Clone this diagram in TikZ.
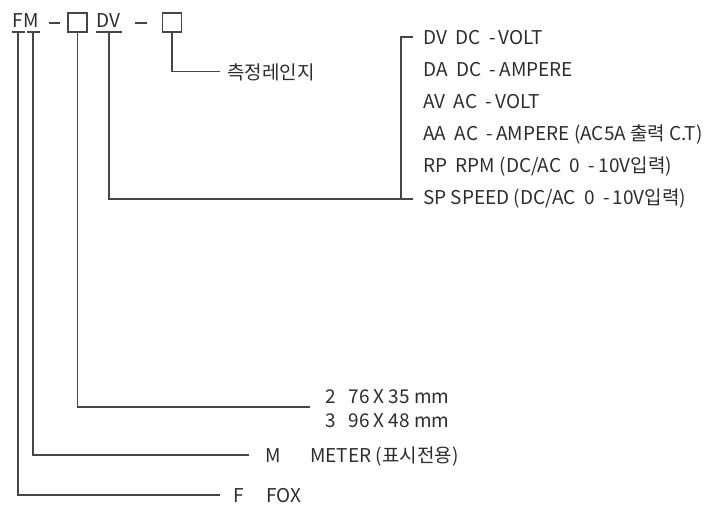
\documentclass[tikz,border=0pt]{standalone}
\usepackage{fontspec}
\setmainfont{Noto Sans CJK KR}
\usetikzlibrary{positioning}
\definecolor{wireGray}{RGB}{70,70,70}
\definecolor{textGray}{RGB}{45,45,45}

\begin{document}
\begin{tikzpicture}[
        x=1pt,
        y=-1pt,
        wire/.style={wireGray, line width=1.1pt},
        dashbar/.style={wireGray, line width=2pt},
        codeText/.style={font=\fontsize{19}{22}\selectfont, text=textGray, inner sep=0pt, anchor=base west},
        slot/.style={draw=wireGray, line width=1.1pt, minimum size=19pt, inner sep=0pt}
    ]
        \useasboundingbox (0,0) rectangle (709,504);

        % model code
        \node[codeText] (cF) at (12.5,27) {F};
        \node[codeText, right=0pt of cF.base east, anchor=base west] (cM) {M};
        \node[slot] (slotA) at (77.5,22.5) {};
        \node[codeText] (cDV) at (96,27) {DV};
        \node[slot] (slotB) at (172,22.5) {};
        \draw[dashbar] (49,22.5) -- (60,22.5);
        \draw[dashbar] (135,22.5) -- (147,22.5);

        % underlines
        \draw[wire] (12,32) -- (25,32);
        \draw[wire] (27,32) -- (40,32);
        \draw[wire] (96,32) -- (122,32);
        \coordinate (tF) at (18,32);
        \coordinate (tM) at (33,32);
        \coordinate (tDV) at (109,32);

        % range
        \node[codeText] (range) at (227,79) {측정레인지};
        \draw[wire] (slotB.south) |- ([xshift=-7pt]range.west);

        % input type
        \foreach \n/\txt [count=\i from 0] in {
            dv/{DV\ \ DC\ \ -\,VOLT},
            da/{DA\ \ DC\ \ -\,AMPERE},
            av/{AV\ \ AC\ \ -\,VOLT},
            aa/{AA\ \ AC\ \ -\,AMPERE (AC5A 출력 C.T)},
            rp/{RP\ \ RPM (DC/AC\ \ 0\ \ -\,10V입력)},
            sp/{SP SPEED (DC/AC\ \ 0\ \ -\,10V입력)}} {
            \node[codeText] (\n) at (423,{44.5+32*\i}) {\txt};
        }
        \coordinate (brTop) at (401,37);
        \coordinate (brBot) at (401,199);
        \draw[wire] ([xshift=-10pt]dv.west |- brTop) -- (brTop) -- (brBot) -- ([xshift=-10pt]sp.west |- brBot);
        \draw[wire] (tDV) |- (brBot);

        % size
        \node[codeText] (s2) at (325,403) {2\ \ \ 76 X 35 mm};
        \node[codeText] (s3) at (325,427) {3\ \ \ 96 X 48 mm};
        \coordinate (sizeEnd) at (310,407);
        \draw[wire] (slotA.south) |- (sizeEnd);

        % kind
        \node[codeText] (kM) at (265,462) {M};
        \node[codeText] (kMeter) at (310,462) {METER (표시전용)};
        \draw[wire] (tM) |- ([xshift=-16pt]kM.west);

        % brand
        \node[codeText] (bF) at (233,502) {F};
        \node[codeText] (bFox) at (266,502) {FOX};
        \draw[wire] (tF) |- ([xshift=-13pt]bF.west);
\end{tikzpicture}
\end{document}
